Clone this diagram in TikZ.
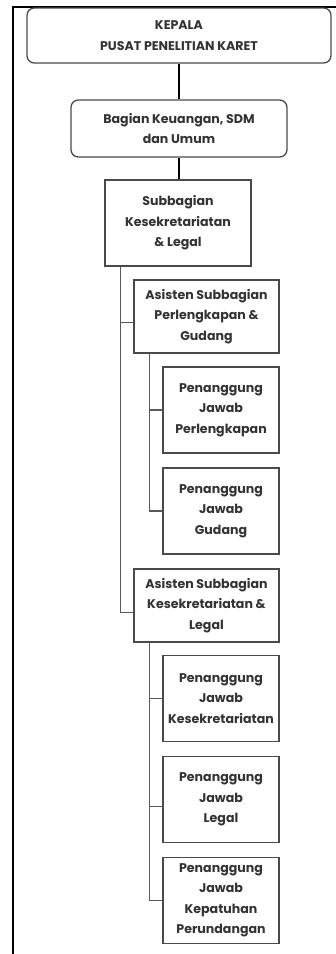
\documentclass[tikz,border=0pt]{standalone}
\usepackage{fontspec}
\setmainfont{Poppins}
\usepackage{tikz}
\usetikzlibrary{positioning,calc}
\definecolor{OrgInk}{HTML}{333333}
\definecolor{OrgLine}{HTML}{4A4A4A}
\definecolor{OrgTree}{HTML}{5A5A5A}
\tikzset{
  unit/.style={draw=OrgLine,line width=1.3pt,fill=white,text=OrgInk,align=center,
               font=\fontsize{12.6}{20.5}\selectfont\bfseries,inner sep=0pt},
  unitround/.style={unit,rounded corners=2.6mm},
  chain/.style={black,line width=2.6pt},
  tree/.style={OrgTree,line width=1.3pt},
  frame/.style={black,line width=2pt},
}
\begin{document}
\begin{tikzpicture}[x=1pt,y=-1pt]
  \useasboundingbox (0,0) rectangle (336,954);
  \draw[frame] (13,954) -- (13,7) -- (336,7);

  \node[unitround,minimum width=304,minimum height=55] (kepala) at (179,35.5)
    {KEPALA\\PUSAT PENELITIAN KARET};
  \node[unitround,minimum width=216,minimum height=57] (bagian) at (179,128.5)
    {Bagian Keuangan, SDM\\dan Umum};
  \node[unit,minimum width=146,minimum height=86] (subbag) at (178,223)
    {Subbagian\\Kesekretariatan\\\& Legal};

  \node[unit,minimum width=145,minimum height=73] (asisten1) at (206.5,316.5)
    {Asisten Subbagian\\Perlengkapan \&\\Gudang};
  \node[unit,minimum width=116,minimum height=86] (pjperl) at (221,410)
    {Penanggung\\Jawab\\Perlengkapan};
  \node[unit,minimum width=116,minimum height=86] (pjgud) at (221,511)
    {Penanggung\\Jawab\\Gudang};

  \node[unit,minimum width=145,minimum height=73] (asisten2) at (206.5,605.5)
    {Asisten Subbagian\\Kesekretariatan \&\\Legal};
  \node[unit,minimum width=116,minimum height=86] (pjsek) at (221,698.5)
    {Penanggung\\Jawab\\Kesekretariatan};
  \node[unit,minimum width=116,minimum height=86] (pjlegal) at (221,799.5)
    {Penanggung\\Jawab\\Legal};
  \node[unit,minimum width=116,minimum height=86] (pjpatuh) at (221,900.5)
    {Penanggung\\Jawab\\Kepatuhan\\Perundangan};

  \draw[chain] (kepala) -- (bagian);
  \draw[chain] (bagian) -- (subbag.north -| bagian);

  % tree lines
  \coordinate (sbtrunk) at ($(subbag.south west)+(16,0)$);
  \coordinate (a1trunk) at ($(asisten1.south west)+(16,0)$);
  \coordinate (a2trunk) at ($(asisten2.south west)+(16,0)$);
  \draw[tree] (sbtrunk) |- ([yshift=-6]asisten1.west);
  \draw[tree] (sbtrunk) |- ([yshift=-7]asisten2.west);
  \draw[tree] (a1trunk) |- (pjperl.west);
  \draw[tree] (a1trunk) |- (pjgud.west);
  \draw[tree] (a2trunk) |- (pjsek.west);
  \draw[tree] (a2trunk) |- ([yshift=-7]pjlegal.west);
  \draw[tree] (a2trunk) |- (pjpatuh.west);
\end{tikzpicture}
\end{document}
